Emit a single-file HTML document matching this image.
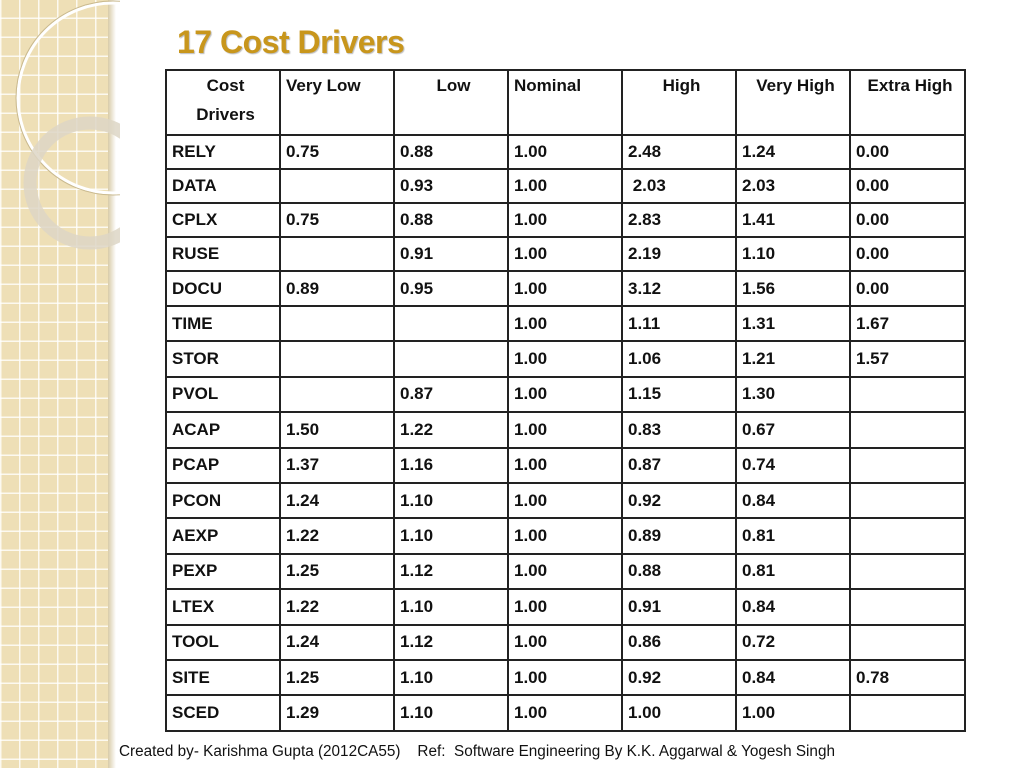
<!DOCTYPE html>
<html><head><meta charset="utf-8"><style>
body{margin:0;width:1024px;height:768px;position:relative;background:#fff;overflow:hidden;font-family:"Liberation Sans",sans-serif}
#strip{position:absolute;left:0;top:0;width:113px;height:768px;background-color:#eedfb6;
background-image:linear-gradient(90deg,rgba(255,255,255,.8) 1.5px,transparent 1.5px),linear-gradient(0deg,rgba(255,255,255,.8) 1.5px,transparent 1.5px);background-size:19px 19px}
#shade{position:absolute;left:108px;top:0;width:8px;height:768px;background:linear-gradient(90deg,#d8cba8,#fff)}
h1{position:absolute;left:177px;top:24px;margin:0;font-size:32px;font-weight:bold;color:#c8961c;text-shadow:1px 1px 1px #bbb;letter-spacing:-0.5px}
table{position:absolute;left:165px;top:69px;border-collapse:collapse;table-layout:fixed}
td{border:2px solid #222;font-weight:bold;font-size:17px;color:#111;padding:0 0 0 5px;vertical-align:middle;white-space:nowrap}
tr.h td{vertical-align:top;padding-top:0;line-height:29px}
#foot{position:absolute;left:119px;top:743px;font-size:15.3px;color:#111;white-space:pre}
</style></head><body>
<div id="strip"></div>
<div id="shade"></div>
<svg style="position:absolute;left:0;top:0" width="120" height="768">
<circle cx="113" cy="98" r="95" fill="none" stroke="#fff" stroke-width="3"/>
<circle cx="113" cy="98" r="97" fill="none" stroke="#c9b98e" stroke-width="1"/>
<circle cx="90" cy="183" r="60" fill="none" stroke="#ddd6c6" stroke-width="13" opacity=".85"/>
</svg>
<h1>17 Cost Drivers</h1>
<table>
<colgroup><col style="width:114px"><col style="width:114px"><col style="width:114px"><col style="width:114px"><col style="width:114px"><col style="width:114px"><col style="width:115px"></colgroup>
<tr class="h" style="height:65px"><td style="text-align:center">Cost<br>Drivers</td><td>Very Low</td><td style="text-align:center">Low</td><td>Nominal</td><td style="text-align:center">High</td><td style="text-align:center">Very High</td><td style="text-align:center">Extra High</td></tr>
<tr style="height:34px"><td>RELY</td><td>0.75</td><td>0.88</td><td>1.00</td><td>2.48</td><td>1.24</td><td>0.00</td></tr>
<tr style="height:34px"><td>DATA</td><td></td><td>0.93</td><td>1.00</td><td>&nbsp;2.03</td><td>2.03</td><td>0.00</td></tr>
<tr style="height:34px"><td>CPLX</td><td>0.75</td><td>0.88</td><td>1.00</td><td>2.83</td><td>1.41</td><td>0.00</td></tr>
<tr style="height:34px"><td>RUSE</td><td></td><td>0.91</td><td>1.00</td><td>2.19</td><td>1.10</td><td>0.00</td></tr>
<tr style="height:35px"><td>DOCU</td><td>0.89</td><td>0.95</td><td>1.00</td><td>3.12</td><td>1.56</td><td>0.00</td></tr>
<tr style="height:35.4px"><td>TIME</td><td></td><td></td><td>1.00</td><td>1.11</td><td>1.31</td><td>1.67</td></tr>
<tr style="height:35.4px"><td>STOR</td><td></td><td></td><td>1.00</td><td>1.06</td><td>1.21</td><td>1.57</td></tr>
<tr style="height:35.4px"><td>PVOL</td><td></td><td>0.87</td><td>1.00</td><td>1.15</td><td>1.30</td><td></td></tr>
<tr style="height:35.4px"><td>ACAP</td><td>1.50</td><td>1.22</td><td>1.00</td><td>0.83</td><td>0.67</td><td></td></tr>
<tr style="height:35.4px"><td>PCAP</td><td>1.37</td><td>1.16</td><td>1.00</td><td>0.87</td><td>0.74</td><td></td></tr>
<tr style="height:35.4px"><td>PCON</td><td>1.24</td><td>1.10</td><td>1.00</td><td>0.92</td><td>0.84</td><td></td></tr>
<tr style="height:35.4px"><td>AEXP</td><td>1.22</td><td>1.10</td><td>1.00</td><td>0.89</td><td>0.81</td><td></td></tr>
<tr style="height:35.4px"><td>PEXP</td><td>1.25</td><td>1.12</td><td>1.00</td><td>0.88</td><td>0.81</td><td></td></tr>
<tr style="height:35.4px"><td>LTEX</td><td>1.22</td><td>1.10</td><td>1.00</td><td>0.91</td><td>0.84</td><td></td></tr>
<tr style="height:35.4px"><td>TOOL</td><td>1.24</td><td>1.12</td><td>1.00</td><td>0.86</td><td>0.72</td><td></td></tr>
<tr style="height:35.4px"><td>SITE</td><td>1.25</td><td>1.10</td><td>1.00</td><td>0.92</td><td>0.84</td><td>0.78</td></tr>
<tr style="height:35.5px"><td>SCED</td><td>1.29</td><td>1.10</td><td>1.00</td><td>1.00</td><td>1.00</td><td></td></tr>
</table>
<div id="foot">Created by- Karishma Gupta (2012CA55)    Ref:  Software Engineering By K.K. Aggarwal &amp; Yogesh Singh</div>
</body></html>
